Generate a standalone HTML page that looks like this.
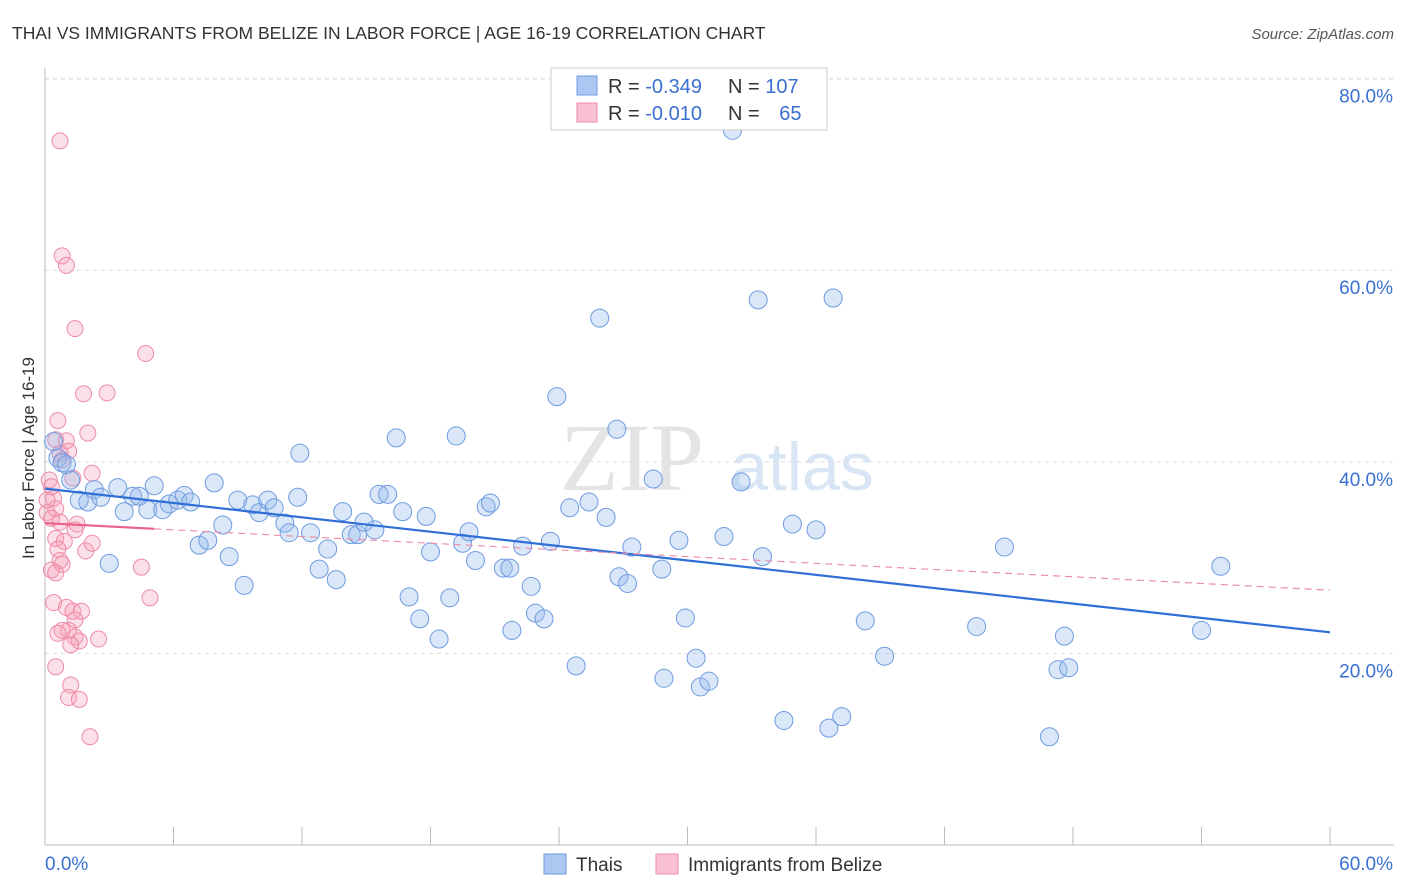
<!DOCTYPE html>
<html><head><meta charset="utf-8">
<style>
body{margin:0;background:#fff;font-family:"Liberation Sans",sans-serif;}
#wrap{position:relative;width:1406px;height:892px;overflow:hidden;}
</style></head>
<body>
<div id="wrap">
<svg id="chart" width="1406" height="892" xmlns="http://www.w3.org/2000/svg">
<text x="12" y="39" font-size="17.5" fill="#333">THAI VS IMMIGRANTS FROM BELIZE IN LABOR FORCE | AGE 16-19 CORRELATION CHART</text>
<text x="1394" y="39" font-size="15" fill="#555" font-style="italic" text-anchor="end">Source: ZipAtlas.com</text>
<text x="632" y="490" font-size="96" fill="#e4e4e4" font-family="Liberation Serif,serif" text-anchor="middle">ZIP</text>
<text x="802" y="490" font-size="68" fill="#d8e5f5" text-anchor="middle">atlas</text>
<g id="grid"></g>
<g id="axes"></g>
<g id="pink"></g>
<g id="blue"></g>
<g id="trend"></g>
<text transform="translate(34,458) rotate(-90)" font-size="17" fill="#333" text-anchor="middle">In Labor Force | Age 16-19</text>
<g>
<rect x="551" y="68" width="276" height="62" fill="#fff" stroke="#ccc"/>
<rect x="577" y="76" width="20" height="19" fill="#aac8f2" stroke="#6f9be0"/>
<rect x="577" y="103" width="20" height="19" fill="#f9c1d1" stroke="#ee8aa8"/>
<text x="608" y="93" font-size="20" fill="#333">R = <tspan fill="#3a6fd1">-0.349</tspan><tspan dx="26">N = </tspan><tspan fill="#3a6fd1">107</tspan></text>
<text x="608" y="120" font-size="20" fill="#333">R = <tspan fill="#3a6fd1">-0.010</tspan><tspan dx="26">N = </tspan><tspan fill="#3a6fd1" dx="14">65</tspan></text>
</g>
<g>
<rect x="544" y="854" width="22" height="20" fill="#aac8f2" stroke="#6f9be0"/>
<text x="576" y="871" font-size="19" fill="#333">Thais</text>
<rect x="656" y="854" width="22" height="20" fill="#f9c1d1" stroke="#ee8aa8"/>
<text x="688" y="871" font-size="19" fill="#333">Immigrants from Belize</text>
</g>
</svg>
</div>
<script>
const xTicks=[0,6,12,18,24,30,36,42,48,54,60];
const yTicks=[20,40,60,80];
const yTickLabels=["20.0%","40.0%","60.0%","80.0%"];
const xEndLabels=["0.0%","60.0%"];
const thaisX=[32.1,33.3,36.8,25.9,23.9,26.7,16.4,19.2,11.9,0.4,0.6,0.8,1.0,1.2,1.6,2.0,2.3,2.6,3.4,3.7,4.1,4.4,4.8,5.1,5.5,5.8,6.2,6.5,6.8,7.2,7.6,7.9,8.3,8.6,9.0,9.3,9.7,10.0,10.4,10.7,11.2,11.4,11.8,12.4,12.8,13.2,13.6,13.9,14.3,14.6,14.9,15.4,15.6,16.0,16.7,17.0,17.5,17.8,18.0,18.4,18.9,19.5,19.8,20.1,20.6,20.8,21.4,21.7,21.8,22.3,22.7,22.9,23.3,23.6,24.5,24.8,25.4,26.2,26.8,27.2,27.4,28.4,28.8,29.6,29.9,28.9,30.4,30.6,31.0,31.7,32.5,33.5,34.5,34.9,36.0,36.6,37.2,38.3,39.2,43.5,44.8,46.9,47.3,47.6,47.8,54.0,54.9,3.0];
const thaisY=[74.6,56.9,57.1,55.0,46.8,43.4,42.5,42.7,40.9,42.1,40.4,39.9,39.7,38.1,36.0,35.8,37.1,36.3,37.3,34.8,36.4,36.4,35.0,37.5,35.0,35.6,36.0,36.5,35.8,31.3,31.8,37.8,33.4,30.1,36.0,27.1,35.5,34.7,36.0,35.2,33.6,32.6,36.3,32.6,28.8,30.9,27.7,34.8,32.4,32.4,33.7,32.9,36.6,36.6,34.8,25.9,23.6,34.3,30.6,21.5,25.8,31.5,32.7,29.7,35.3,35.7,28.9,28.9,22.4,31.2,27.0,24.2,23.6,31.7,35.2,18.7,35.8,34.2,28.0,27.3,31.1,38.2,28.8,31.8,23.7,17.4,19.5,16.5,17.1,32.2,37.9,30.1,13.0,33.5,32.9,12.2,13.4,23.4,19.7,22.8,31.1,11.3,18.3,21.8,18.5,22.4,29.1,29.4];
const belizeX=[0.7,0.8,1.0,1.4,4.7,1.8,2.9,0.6,2.0,0.5,1.0,1.1,0.7,0.8,2.2,1.3,0.4,0.5,0.1,0.3,0.7,1.5,1.4,0.5,0.9,0.6,1.9,2.2,0.7,0.8,0.3,0.5,4.5,0.4,4.9,1.0,1.3,1.7,1.4,0.8,1.1,0.6,1.4,1.6,2.5,1.2,0.5,1.2,1.1,1.6,2.1,0.2,0.3,0.1];
const belizeY=[73.5,61.5,60.5,53.9,51.3,47.1,47.2,44.3,43.0,42.3,42.2,41.1,40.9,40.2,38.8,38.3,36.2,35.1,34.7,34.1,33.7,33.5,32.9,32.0,31.7,30.9,30.7,31.5,29.7,29.3,28.7,28.4,29.0,25.3,25.8,24.8,24.4,24.4,23.5,22.4,22.4,22.1,21.7,21.3,21.5,20.9,18.6,16.7,15.4,15.2,11.3,38.1,37.4,36.0];
const thaisTrend=[37.2,22.2];
const belizeTrend=[33.6,26.6];
const belizeSolidEnd=5.1;

const NS="http://www.w3.org/2000/svg";
const X0=45,X1=1330,Y0=845,PXY=9.58;
const sx=v=>X0+(v-0)/60*(X1-X0);
const sy=v=>Y0-v*PXY;
function mk(tag,attrs,parent){const e=document.createElementNS(NS,tag);for(const k in attrs)e.setAttribute(k,attrs[k]);parent.appendChild(e);return e;}
const grid=document.getElementById('grid'),axes=document.getElementById('axes');
yTicks.forEach((t,i)=>{
 const l=mk('line',{x1:X0,x2:1394,y1:sy(t),y2:sy(t),stroke:'#ddd','stroke-dasharray':'4,4'},grid);
 
 
 const tx=mk('text',{x:1393,y:sy(t)+24,'font-size':19,fill:'#3a6fd1','text-anchor':'end'},axes);
 tx.textContent=yTickLabels[i];
 
 
});
const topg=mk('line',{x1:X0,x2:1394,y1:79,y2:79,stroke:'#ddd','stroke-dasharray':'4,4'},grid);


const xa=mk('line',{x1:X0,x2:1394,y1:Y0,y2:Y0,stroke:'#bbb'},axes);


const ya=mk('line',{x1:X0,x2:X0,y1:68,y2:Y0,stroke:'#bbb'},axes);


xTicks.forEach(t=>{
 const l=mk('line',{x1:sx(t),x2:sx(t),y1:Y0,y2:827,stroke:'#bbb'},axes);
 
 
});
const xl0=mk('text',{x:45,y:870,'font-size':19,fill:'#3a6fd1'},axes);xl0.textContent=xEndLabels[0];


const xl1=mk('text',{x:1393,y:870,'font-size':19,fill:'#3a6fd1','text-anchor':'end'},axes);xl1.textContent=xEndLabels[1];


const pg=document.getElementById('pink');
belizeX.forEach((x,i)=>{
 const c=mk('circle',{cx:sx(x),cy:sy(belizeY[i]),r:8,fill:'rgba(245,160,186,0.33)',stroke:'#ee8aa8','stroke-width':1},pg);
 
 
});
const bg=document.getElementById('blue');
thaisX.forEach((x,i)=>{
 const c=mk('circle',{cx:sx(x),cy:sy(thaisY[i]),r:9,fill:'rgba(150,186,236,0.35)',stroke:'#6f9be0','stroke-width':1},bg);
 
 
});
const tg=document.getElementById('trend');
const bt=mk('line',{x1:sx(0),y1:sy(thaisTrend[0]),x2:sx(60),y2:sy(thaisTrend[1]),stroke:'#2f6fd6','stroke-width':2.2},tg);


const pyAt=x=>belizeTrend[0]+(belizeTrend[1]-belizeTrend[0])*x/60;
const pd=mk('line',{x1:sx(belizeSolidEnd),y1:sy(pyAt(belizeSolidEnd)),x2:sx(60),y2:sy(belizeTrend[1]),stroke:'#ee8aa8','stroke-width':1.2,'stroke-dasharray':'7,5'},tg);


const ps=mk('line',{x1:sx(0),y1:sy(belizeTrend[0]),x2:sx(belizeSolidEnd),y2:sy(pyAt(belizeSolidEnd)),stroke:'#e8628c','stroke-width':2.2},tg);


</script>
</body></html>
